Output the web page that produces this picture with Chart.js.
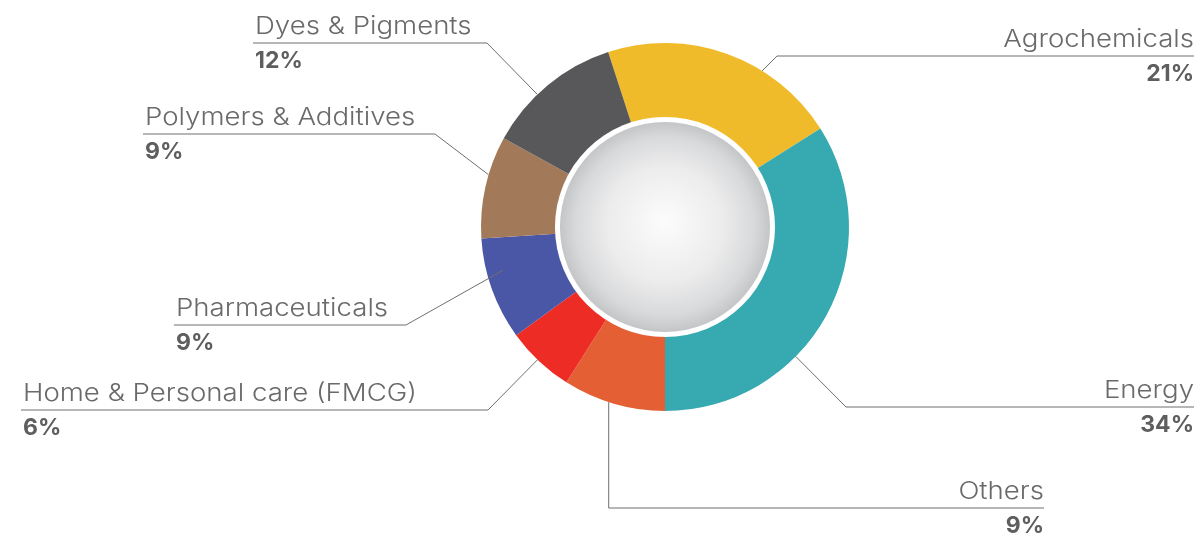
<!DOCTYPE html>
<html>
<head>
<meta charset="utf-8">
<script src="https://cdn.jsdelivr.net/npm/chart.js@4/dist/chart.umd.min.js"></script>
<style>
  html, body { margin: 0; padding: 0; background: #fff; }
  #wrap { width: 1198px; height: 536px; }
</style>
</head>
<body>
<div id="wrap"><canvas id="segment_chart"></canvas></div>
<script>
const categories = ["Agrochemicals", "Energy", "Others", "Home & Personal care (FMCG)", "Pharmaceuticals", "Polymers & Additives", "Dyes & Pigments"];
const shares = [21, 34, 9, 6, 9, 9, 12];
const sliceColours = ["#F0BB2B", "#37A9B0", "#E46034", "#EC2C25", "#4A56A6", "#A37A59", "#58585A"];

// leader line layout: where on the slice it starts (fraction of arc, radius factor),
// the y of the underline, the elbow x, the text x and which side the text sits
const labelLayout = [
  { frac: 0.66, rf: 1.0,  lineY: 56,  elbowX: 777, textX: 1194, side: "right" },
  { frac: 0.63, rf: 1.0,  lineY: 407, elbowX: 846, textX: 1194, side: "right" },
  { frac: 0.55, rf: 1.0,  lineY: 508, elbowX: null, textX: 1044, side: "right" },
  { frac: 0.53, rf: 1.0,  lineY: 410, elbowX: 488, textX: 23,   side: "left" },
  { frac: 0.65, rf: 0.91, lineY: 325, elbowX: 406, textX: 176,  side: "left" },
  { frac: 0.62, rf: 1.0,  lineY: 134, elbowX: 435, textX: 145,  side: "left" },
  { frac: 0.40, rf: 1.0,  lineY: 43,  elbowX: 487, textX: 255,  side: "left" }
];

const labelFont = "300 24px Inter";
const pctFont = "700 23px Inter";
const labelStretch = 1.15; // the original type is a wide geometric face

const sphere = {
  id: "sphere",
  afterDatasetsDraw(chart) {
    const arc = chart.getDatasetMeta(0).data[0];
    const ctx = chart.ctx;
    const cx = arc.x, cy = arc.y;
    const r = arc.outerRadius * 0.598;
    ctx.save();
    ctx.beginPath();
    ctx.arc(cx, cy, r, 0, Math.PI * 2);
    ctx.fillStyle = "#ffffff";
    ctx.fill();
    const inner = r - 5;
    const grad = ctx.createRadialGradient(cx, cy - 6, 0, cx, cy, inner);
    grad.addColorStop(0, "#fcfcfc");
    grad.addColorStop(0.55, "#ececed");
    grad.addColorStop(0.85, "#d8d9da");
    grad.addColorStop(1, "#c4c5c7");
    ctx.beginPath();
    ctx.arc(cx, cy, inner, 0, Math.PI * 2);
    ctx.fillStyle = grad;
    ctx.fill();
    ctx.restore();
  }
};

function stretchedText(ctx, text, x, y, sx) {
  ctx.save();
  ctx.translate(x, y);
  ctx.scale(sx, 1);
  ctx.fillText(text, 0, 0);
  ctx.restore();
}

const leaderLabels = {
  id: "leaderLabels",
  afterDraw(chart) {
    const ctx = chart.ctx;
    const arcs = chart.getDatasetMeta(0).data;
    ctx.save();
    arcs.forEach((arc, i) => {
      const lay = labelLayout[i];
      const a = arc.startAngle + (arc.endAngle - arc.startAngle) * lay.frac;
      const rr = arc.outerRadius * lay.rf;
      const sx = arc.x + Math.cos(a) * rr;
      const sy = arc.y + Math.sin(a) * rr;
      const ex = lay.elbowX === null ? sx : lay.elbowX;

      const farX = lay.side === "left" ? lay.textX - 2 : lay.textX;
      ctx.strokeStyle = "#6f6f6f";
      ctx.lineWidth = 1;
      ctx.beginPath();
      ctx.moveTo(sx, sy);
      ctx.lineTo(ex, lay.lineY);
      ctx.lineTo(farX, lay.lineY);
      ctx.stroke();

      ctx.textAlign = lay.side === "left" ? "left" : "right";
      ctx.textBaseline = "alphabetic";
      ctx.font = labelFont;
      ctx.fillStyle = "#6a6a6a";
      stretchedText(ctx, categories[i], lay.textX, lay.lineY - 9, labelStretch);
      ctx.font = pctFont;
      ctx.fillStyle = "#5e5e5e";
      ctx.fillText(shares[i] + "%", lay.textX, lay.lineY + 25);
    });
    ctx.restore();
  }
};

new Chart(document.getElementById("segment_chart"), {
  type: "doughnut",
  data: {
    labels: categories,
    datasets: [{
      data: shares,
      backgroundColor: sliceColours,
      borderWidth: 0
    }]
  },
  options: {
    responsive: true,
    maintainAspectRatio: false,
    animation: false,
    rotation: -18,
    cutout: "57%",
    layout: { padding: { left: 300, right: 168, top: 43, bottom: 125 } },
    plugins: {
      legend: { display: false },
      tooltip: { enabled: false }
    }
  },
  plugins: [sphere, leaderLabels]
});
</script>
</body>
</html>
